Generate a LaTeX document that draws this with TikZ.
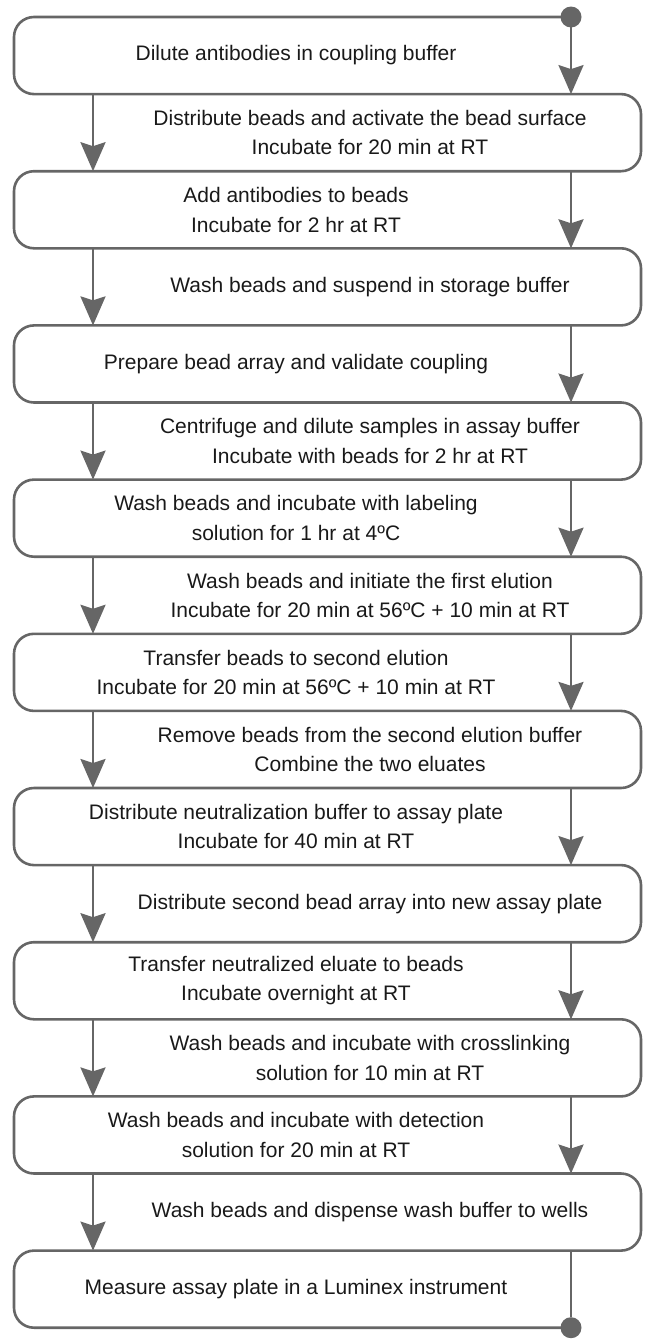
\documentclass[tikz,border=0pt]{standalone}
\usepackage{fontspec}
\setmainfont{Liberation Sans}
\usetikzlibrary{arrows.meta}
\definecolor{linegray}{RGB}{102,102,102}
\definecolor{txtcol}{RGB}{25,25,25}
\begin{document}
\begin{tikzpicture}[x=1pt,y=-1pt,
  band/.style={draw=linegray, line width=2.6pt, rounded corners=20pt},
  plainlink/.style={draw=linegray, line width=2.6pt},
  flow/.style={plainlink, -{Stealth[length=29pt,width=25pt,inset=4pt]}},
  enddot/.style={fill=linegray, draw=none, circle, minimum size=21pt, inner sep=0pt},
  steptext/.style={font=\fontsize{21}{29.5}\selectfont, text=txtcol, align=center, inner sep=0pt}]
\useasboundingbox (0,0) rectangle (645,1339);
% coordinates of the 18 horizontal lines
\foreach \k in {0,...,17}{
  \coordinate (L\k) at (14,{17+77.1*\k});
  \coordinate (R\k) at (641,{17+77.1*\k});
  \coordinate (A\k) at (571,{17+77.1*\k});
  \coordinate (B\k) at (93,{17+77.1*\k});
}
% serpentine outline
\draw[band] (A0) -- (L0) -- (L1) -- (R1) -- (R2) -- (L2) -- (L3) -- (R3) -- (R4) -- (L4)
  -- (L5) -- (R5) -- (R6) -- (L6) -- (L7) -- (R7) -- (R8) -- (L8) -- (L9) -- (R9)
  -- (R10) -- (L10) -- (L11) -- (R11) -- (R12) -- (L12) -- (L13) -- (R13) -- (R14) -- (L14)
  -- (L15) -- (R15) -- (R16) -- (L16) -- (L17) -- (A17);
% arrows
\foreach \a/\b in {0/1,2/3,4/5,6/7,8/9,10/11,12/13,14/15}
  \draw[flow] (A\a) -- (A\b);
\foreach \a/\b in {1/2,3/4,5/6,7/8,9/10,11/12,13/14,15/16}
  \draw[flow] (B\a) -- (B\b);
% end dots
\node[enddot] (start) at (A0) {};
\node[enddot] (stop) at (A17) {};
\draw[plainlink] (A16) -- (stop);
% texts
\def\ya#1{{17+77.1*(#1-0.5)}}
\node[steptext] (s1) at (296,\ya{1}) {Dilute antibodies in coupling buffer};
\node[steptext] (s2) at (370,\ya{2}) {Distribute beads and activate the bead surface\\Incubate for 20 min at RT};
\node[steptext] (s3) at (296,\ya{3}) {Add antibodies to beads\\Incubate for 2 hr at RT};
\node[steptext] (s4) at (370,\ya{4}) {Wash beads and suspend in storage buffer};
\node[steptext] (s5) at (296,\ya{5}) {Prepare bead array and validate coupling};
\node[steptext] (s6) at (370,\ya{6}) {Centrifuge and dilute samples in assay buffer\\Incubate with beads for 2 hr at RT};
\node[steptext] (s7) at (296,\ya{7}) {Wash beads and incubate with labeling\\solution for 1 hr at 4ºC};
\node[steptext] (s8) at (370,\ya{8}) {Wash beads and initiate the first elution\\Incubate for 20 min at 56ºC + 10 min at RT};
\node[steptext] (s9) at (296,\ya{9}) {Transfer beads to second elution\\Incubate for 20 min at 56ºC + 10 min at RT};
\node[steptext] (s10) at (370,\ya{10}) {Remove beads from the second elution buffer\\Combine the two eluates};
\node[steptext] (s11) at (296,\ya{11}) {Distribute neutralization buffer to assay plate\\Incubate for 40 min at RT};
\node[steptext] (s12) at (370,\ya{12}) {Distribute second bead array into new assay plate};
\node[steptext] (s13) at (296,\ya{13}) {Transfer neutralized eluate to beads\\Incubate overnight at RT};
\node[steptext] (s14) at (370,\ya{14}) {Wash beads and incubate with crosslinking\\solution for 10 min at RT};
\node[steptext] (s15) at (296,\ya{15}) {Wash beads and incubate with detection\\solution for 20 min at RT};
\node[steptext] (s16) at (370,\ya{16}) {Wash beads and dispense wash buffer to wells};
\node[steptext] (s17) at (296,\ya{17}) {Measure assay plate in a Luminex instrument};
\end{tikzpicture}
\end{document}
